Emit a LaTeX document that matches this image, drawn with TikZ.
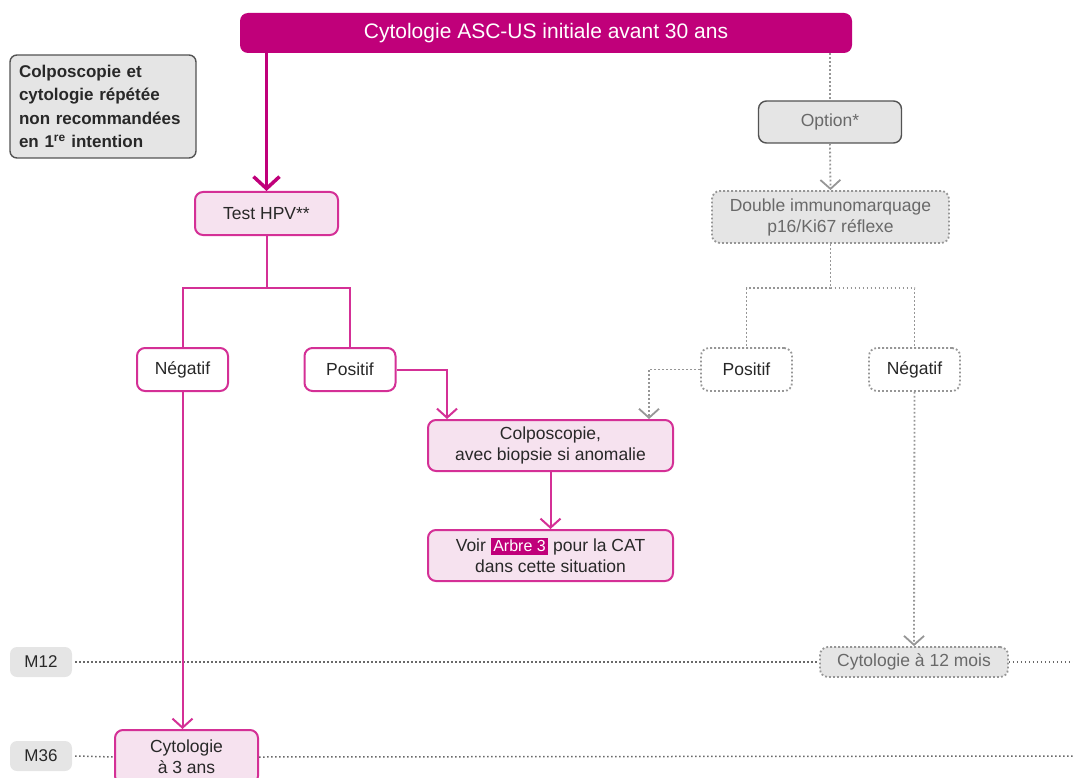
\documentclass[tikz,border=0pt]{standalone}
\usepackage{fontspec}
\setmainfont{Liberation Sans}
\usetikzlibrary{arrows.meta}

\definecolor{magentadark}{RGB}{192,0,122}
\definecolor{magentaline}{RGB}{212,48,150}
\definecolor{pinkfill}{RGB}{246,226,239}
\definecolor{greyfill}{RGB}{229,229,229}
\definecolor{greytext}{RGB}{105,105,105}
\definecolor{greyline}{RGB}{150,150,150}
\definecolor{darktext}{RGB}{40,40,40}

\tikzset{
  box/.style={draw=magentaline, line width=2pt, rounded corners=8pt, fill=pinkfill,
    text=darktext, align=center, inner sep=0pt, font=\fontsize{17.5}{21}\selectfont},
  answer/.style={box, fill=white},
  optbox/.style={draw=greyline, line width=1.8pt, dash pattern=on 1.8pt off 2.2pt,
    rounded corners=8pt, fill=greyfill, text=greytext, align=center, inner sep=0pt,
    font=\fontsize{17.5}{21}\selectfont},
  optanswer/.style={optbox, fill=white, text=darktext},
  month/.style={fill=greyfill, rounded corners=7pt, text=darktext, inner sep=0pt,
    minimum width=62pt, minimum height=30pt, font=\fontsize{17}{20}\selectfont},
  link/.style={draw=magentaline, line width=2pt},
  linkarrow/.style={link, -{Straight Barb[length=9pt,width=20pt]}},
  optlink/.style={draw=greyline, line width=1.8pt, dash pattern=on 1.8pt off 2.2pt},
  optarrow/.style={optlink, -{Straight Barb[length=9pt,width=20pt]}},
  timeline/.style={draw=greyline!70!black, line width=1.5pt, dash pattern=on 1.5pt off 2.5pt}
}

\begin{document}
\begin{tikzpicture}[x=1pt,y=-1pt]
    \useasboundingbox (0,0) rectangle (1073,778);

    % title and side note
    \node[fill=magentadark, rounded corners=8pt, text=white, minimum width=612pt, minimum height=40pt,
      inner sep=0pt, font=\fontsize{21}{24}\selectfont] (title) at (546,33) {Cytologie ASC-US initiale avant 30 ans};
    \node[draw=darktext!80, fill=greyfill, line width=1.4pt, rounded corners=7pt, text=darktext,
      minimum width=186pt, minimum height=103pt, text width=176pt, align=left, inner sep=5pt,
      font=\bfseries\fontsize{17}{23.5}\selectfont] (note) at (103,106.5)
      {\hspace*{4pt}Colposcopie et\\\hspace*{4pt}cytologie répétée\\\hspace*{4pt}non recommandées\\\hspace*{4pt}en 1\textsuperscript{re} intention};

    % main branch
    \node[box, minimum width=143pt, minimum height=43pt] (hpv) at (266.5,213.5) {Test HPV**};
    \node[answer, minimum width=91pt, minimum height=43pt] (negL) at (182.5,369.5) {Négatif};
    \node[answer, minimum width=91pt, minimum height=43pt] (posL) at (350,369.5) {Positif};
    \node[box, minimum width=245pt, minimum height=51pt] (colpo) at (550.5,445.5) {Colposcopie,\\avec biopsie si anomalie};
    \node[box, minimum width=245pt, minimum height=51pt] (voir) at (550.5,555.5)
      {Voir {\fboxsep=2.5pt\colorbox{magentadark}{\textcolor{white}{\fontsize{16}{18}\selectfont Arbre 3}}} pour la CAT\\dans cette situation};

    % optional branch
    \node[draw=darktext!80, line width=1.4pt, rounded corners=8pt, fill=greyfill, text=greytext,
      minimum width=143pt, minimum height=42pt, inner sep=0pt, font=\fontsize{17.5}{21}\selectfont] (option) at (830,122) {Option*};
    \node[optbox, minimum width=237pt, minimum height=52pt] (immuno) at (830.5,217) {Double immunomarquage\\p16/Ki67 réflexe};
    \node[optanswer, minimum width=91pt, minimum height=43pt] (posR) at (746.5,369.5) {Positif};
    \node[optanswer, minimum width=91pt, minimum height=43pt] (negR) at (914.5,369.5) {Négatif};

    % time axis
    \node[month] (m12) at (41,662) {M12};
    \node[month] (m36) at (41,756) {M36};
    \coordinate (m12end) at (1073,662);
    \coordinate (m36end) at (1073,756);
    \node[optbox, minimum width=188pt, minimum height=30pt] (cyt12) at (914,662) {Cytologie à 12 mois};
    \node[box, minimum width=143pt, minimum height=54pt] (cyt3) at (186.5,757) {Cytologie\\à 3 ans};

    \draw[timeline] ([xshift=3pt]m12.east) -- (cyt12.west);
    \draw[timeline] (cyt12.east) -- (m12end);
    \draw[timeline] ([xshift=3pt]m36.east) -- (cyt3.west);
    \draw[timeline] (cyt3.east) -- (m36end);

    % connectors
    \draw[magentadark, line width=3.5pt, -{Straight Barb[length=12pt,width=26pt]}] (title.south -| hpv.north) -- (hpv.north);
    \coordinate (splitL) at ([yshift=-52pt]hpv.south);
    \draw[link] (hpv.south) -- (splitL) -| (negL.north);
    \draw[link] (splitL) -| (posL.north);
    \draw[linkarrow] (posL.east) -| ([xshift=20pt]colpo.north west);
    \draw[linkarrow] (colpo.south) -- (voir.north);
    \draw[linkarrow] (negL.south) -- (negL.south |- cyt3.north);

    \draw[optlink] (title.south -| option.north) -- (option.north);
    \draw[optarrow] (option.south) -- (immuno.north);
    \coordinate (splitR) at ([yshift=-44pt]immuno.south);
    \draw[optlink] (immuno.south) -- (splitR) -| (posR.north);
    \draw[optlink] (splitR) -| (negR.north);
    \draw[optarrow] (posR.west) -| ([xshift=-25pt]colpo.north east);
    \draw[optarrow] (negR.south) -- (cyt12.north);
\end{tikzpicture}
\end{document}
